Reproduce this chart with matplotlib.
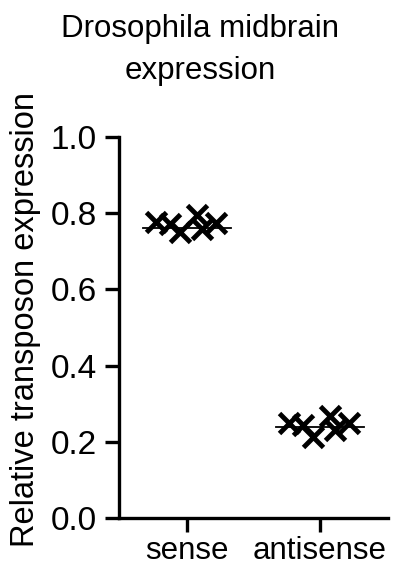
import numpy as np
import matplotlib.pyplot as plt

plt.rcParams['font.family'] = ['Liberation Sans', 'DejaVu Sans']

groups = ['sense', 'antisense']
sense = [0.777, 0.772, 0.751, 0.795, 0.759, 0.775]
antisense = [0.249, 0.244, 0.212, 0.268, 0.231, 0.249]
means = [0.762, 0.240]

# horizontal scatter of the points within each column
jitter = np.array([-0.23, -0.13, -0.05, 0.075, 0.11, 0.22])

fig = plt.figure(figsize=(3.98, 5.68), dpi=100)
ax = fig.add_axes([0.299, 0.088, 0.676, 0.671])

for i, vals in enumerate([sense, antisense]):
    x = i + 1 + jitter
    ax.plot(x, vals, linestyle='none', marker='x', color='black',
            markersize=14, markeredgewidth=3.5)
    ax.plot([i + 1 - 0.33, i + 1 + 0.33], [means[i], means[i]],
            color='black', linewidth=1.3)

ax.set_xlim(0.489, 2.511)
ax.set_ylim(0, 1.0)
ax.set_yticks([0.0, 0.2, 0.4, 0.6, 0.8, 1.0])
ax.set_yticklabels(['0.0', '0.2', '0.4', '0.6', '0.8', '1.0'])
ax.set_xticks([1, 2])
ax.set_xticklabels(groups)

for s in ['top', 'right']:
    ax.spines[s].set_visible(False)
for s in ['left', 'bottom']:
    ax.spines[s].set_linewidth(2.4)
ax.tick_params(axis='both', width=2.4, length=10, pad=6)
ax.tick_params(axis='x', pad=3)
ax.tick_params(axis='y', labelsize=24)
ax.tick_params(axis='x', labelsize=22.5)
ax.set_ylabel('Relative transposon expression', fontsize=23.5)
ax.yaxis.set_label_coords(-0.29, 0.522)
fig.text(0.503, 0.975, 'Drosophila midbrain\nexpression', fontsize=22.5,
         ha='center', va='top', linespacing=1.5)

fig.savefig('out.png', dpi=100)
